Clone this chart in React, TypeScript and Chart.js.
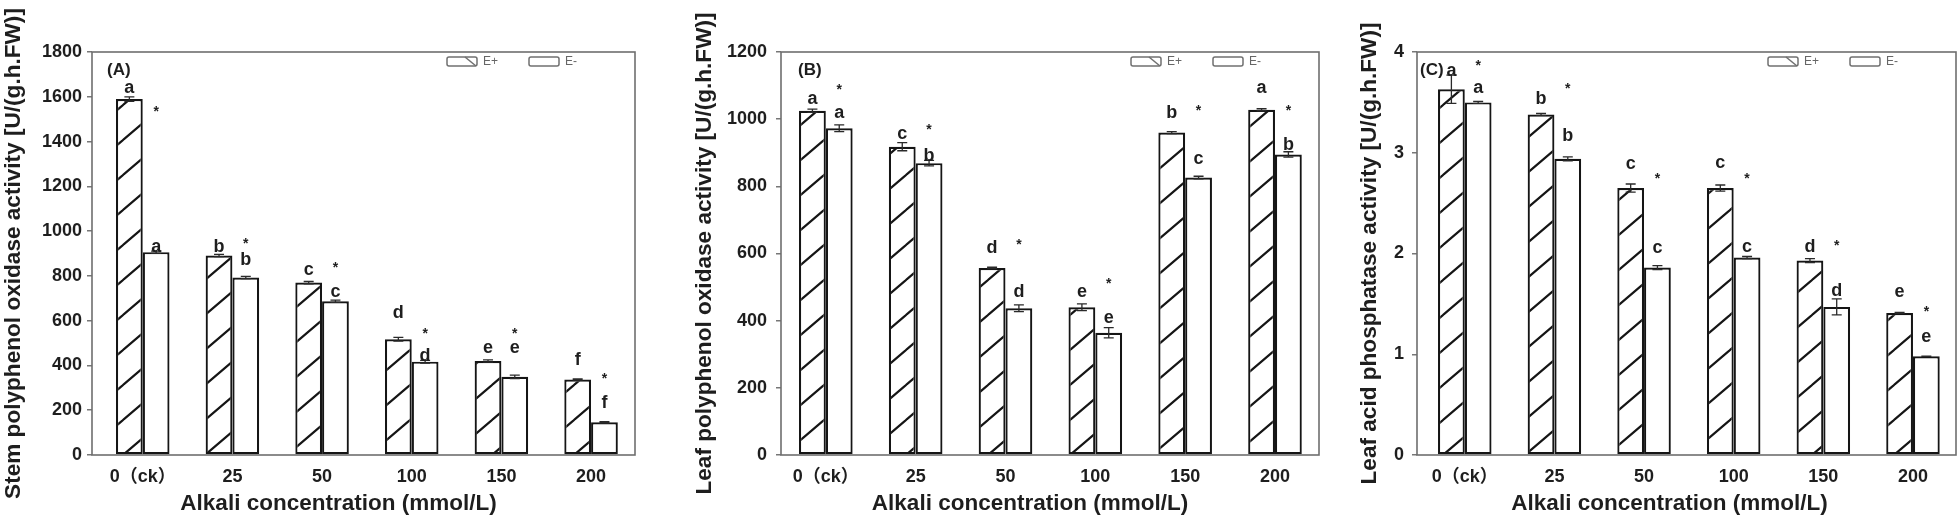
import React, { useEffect, useRef } from "react";
import { Chart, registerables } from "chart.js";

Chart.register(...registerables);

const FONT = '"Liberation Sans", Arial, "Noto Sans CJK SC", sans-serif';

const categories = ["0（ck）", "25", "50", "100", "150", "200"];
const xTitle = "Alkali concentration (mmol/L)";
const seriesNames = ["E+", "E-"];

// ---- Panel A: stem polyphenol oxidase ----
const stemPPO_Eplus = [1590, 891, 770, 517, 420, 337];
const stemPPO_Eminus = [906, 793, 687, 417, 349, 146];
const stemPPO_errEplus = [10, 5, 5, 8, 5, 3];
const stemPPO_errEminus = [5, 5, 5, 6, 8, 3];
const stemPPO_letEplus = ["a", "b", "c", "d", "e", "f"];
const stemPPO_letEminus = ["a", "b", "c", "d", "e", "f"];
const stemPPO_letYEplus = [1640, 928, 824, 633, 477, 425];
const stemPPO_letYEminus = [928, 872, 727, 440, 477, 231];
const stemPPO_starY = [1547, 954, 850, 551, 551, 350];
const stemPPO_yTicks = [0, 200, 400, 600, 800, 1000, 1200, 1400, 1600, 1800];

// ---- Panel B: leaf polyphenol oxidase ----
const leafPPO_Eplus = [1025, 918, 557, 440, 960, 1028];
const leafPPO_Eminus = [973, 869, 437, 364, 826, 895];
const leafPPO_errEplus = [5, 12, 2, 10, 3, 3];
const leafPPO_errEminus = [10, 8, 10, 15, 4, 8];
const leafPPO_letEplus = ["a", "c", "d", "e", "b", "a"];
const leafPPO_letEminus = ["a", "b", "d", "e", "c", "b"];
const leafPPO_letYEplus = [1061, 956, 616, 485, 1018, 1093];
const leafPPO_letYEminus = [1018, 889, 485, 409, 882, 922];
const leafPPO_starY = [1096, 975, 633, 519, 1033, 1033];
const leafPPO_yTicks = [0, 200, 400, 600, 800, 1000, 1200];

// ---- Panel C: leaf acid phosphatase ----
const leafACP_Eplus = [3.63, 3.38, 2.65, 2.65, 1.93, 1.41];
const leafACP_Eminus = [3.5, 2.94, 1.86, 1.96, 1.47, 0.98];
const leafACP_errEplus = [0.14, 0.01, 0.04, 0.03, 0.02, 0.005];
const leafACP_errEminus = [0.01, 0.02, 0.02, 0.01, 0.08, 0.0];
const leafACP_letEplus = ["a", "b", "c", "c", "d", "e"];
const leafACP_letEminus = ["a", "b", "c", "c", "d", "e"];
const leafACP_letYEplus = [3.81, 3.53, 2.89, 2.9, 2.06, 1.62];
const leafACP_letYEminus = [3.64, 3.17, 2.05, 2.06, 1.63, 1.17];
const leafACP_starY = [3.89, 3.66, 2.77, 2.77, 2.1, 1.45];
const leafACP_yTicks = [0, 1, 2, 3, 4];

type PanelCfg = {
  tag: string;
  yTitle: string;
  ePlus: number[];
  eMinus: number[];
  errPlus: number[];
  errMinus: number[];
  letPlus: string[];
  letMinus: string[];
  letYPlus: number[];
  letYMinus: number[];
  starY: number[];
  yTicks: number[];
  // layout
  canvasLeft: number;
  canvasWidth: number;
  padLeft: number;
  padRight: number;
  yAxisWidth: number;
  tickPad: number;
  xMin: number;
  xMax: number;
  tagDx: number;
  xTitleDx: number;
};

const panels: PanelCfg[] = [
  {
    tag: "(A)",
    yTitle: "Stem polyphenol oxidase activity [U/(g.h.FW)]",
    ePlus: stemPPO_Eplus,
    eMinus: stemPPO_Eminus,
    errPlus: stemPPO_errEplus,
    errMinus: stemPPO_errEminus,
    letPlus: stemPPO_letEplus,
    letMinus: stemPPO_letEminus,
    letYPlus: stemPPO_letYEplus,
    letYMinus: stemPPO_letYEminus,
    starY: stemPPO_starY,
    yTicks: stemPPO_yTicks,
    canvasLeft: 0,
    canvasWidth: 660,
    padLeft: 0,
    padRight: 25,
    yAxisWidth: 92,
    tickPad: 5,
    xMin: -0.566,
    xMax: 5.49,
    tagDx: 15,
    xTitleDx: -25,
  },
  {
    tag: "(B)",
    yTitle: "Leaf polyphenol oxidase activity [U/(g.h.FW)]",
    ePlus: leafPPO_Eplus,
    eMinus: leafPPO_Eminus,
    errPlus: leafPPO_errEplus,
    errMinus: leafPPO_errEminus,
    letPlus: leafPPO_letEplus,
    letMinus: leafPPO_letEminus,
    letYPlus: leafPPO_letYEplus,
    letYMinus: leafPPO_letYEminus,
    starY: leafPPO_starY,
    yTicks: leafPPO_yTicks,
    canvasLeft: 660,
    canvasWidth: 660,
    padLeft: 31,
    padRight: 1,
    yAxisWidth: 90,
    tickPad: 9,
    xMin: -0.499,
    xMax: 5.49,
    tagDx: 17,
    xTitleDx: -20,
  },
  {
    tag: "(C)",
    yTitle: "Leaf acid phosphatase activity [U/(g.h.FW)]",
    ePlus: leafACP_Eplus,
    eMinus: leafACP_Eminus,
    errPlus: leafACP_errEplus,
    errMinus: leafACP_errEminus,
    letPlus: leafACP_letEplus,
    letMinus: leafACP_letEminus,
    letYPlus: leafACP_letYEplus,
    letYMinus: leafACP_letYEminus,
    starY: leafACP_starY,
    yTicks: leafACP_yTicks,
    canvasLeft: 1320,
    canvasWidth: 640,
    padLeft: 36,
    padRight: 4,
    yAxisWidth: 61,
    tickPad: 8,
    xMin: -0.533,
    xMax: 5.48,
    tagDx: 3,
    xTitleDx: -17,
  },
];

function makeHatch(): CanvasPattern | string {
  const w = 41;
  const h = 35;
  const c = document.createElement("canvas");
  c.width = w;
  c.height = h;
  const g = c.getContext("2d");
  if (!g) return "#fff";
  g.fillStyle = "#ffffff";
  g.fillRect(0, 0, w, h);
  g.strokeStyle = "#151515";
  g.lineWidth = 2.2;
  g.lineCap = "square";
  for (const dx of [-w, 0, w]) {
    g.beginPath();
    g.moveTo(dx, h);
    g.lineTo(dx + w, 0);
    g.stroke();
  }
  const p = g.createPattern(c, "repeat");
  return p || "#fff";
}

function makeAnnotPlugin(p: PanelCfg) {
  return {
    id: "annot" + p.tag,
    afterDatasetsDraw(chart: any) {
      const { ctx, chartArea: a, scales } = chart;
      const ys = scales.y;
      const m0 = chart.getDatasetMeta(0);
      const m1 = chart.getDatasetMeta(1);
      ctx.save();

      // frame
      ctx.strokeStyle = "#6e6e6e";
      ctx.lineWidth = 1.6;
      ctx.strokeRect(a.left, a.top, a.right - a.left, a.bottom - a.top);

      // error bars
      const drawErr = (x: number, v: number, e: number) => {
        const yTop = ys.getPixelForValue(v + e);
        const yBot = ys.getPixelForValue(v - e);
        ctx.strokeStyle = "#2a2a2a";
        ctx.lineWidth = 1.3;
        ctx.beginPath();
        ctx.moveTo(x, yTop);
        ctx.lineTo(x, yBot);
        ctx.moveTo(x - 5, yTop);
        ctx.lineTo(x + 5, yTop);
        ctx.moveTo(x - 5, yBot);
        ctx.lineTo(x + 5, yBot);
        ctx.stroke();
      };
      categories.forEach((_, i) => {
        drawErr(m0.data[i].x, p.ePlus[i], p.errPlus[i]);
        drawErr(m1.data[i].x, p.eMinus[i], p.errMinus[i]);
      });

      // panel tag
      ctx.fillStyle = "#1e1e1e";
      ctx.font = "bold 17px " + FONT;
      ctx.textAlign = "left";
      ctx.textBaseline = "middle";
      ctx.fillText(p.tag, a.left + p.tagDx, a.top + 18);

      // letters
      ctx.font = "bold 18px " + FONT;
      ctx.textAlign = "center";
      ctx.textBaseline = "middle";
      categories.forEach((_, i) => {
        ctx.fillText(p.letPlus[i], m0.data[i].x, ys.getPixelForValue(p.letYPlus[i]));
        ctx.fillText(p.letMinus[i], m1.data[i].x, ys.getPixelForValue(p.letYMinus[i]));
      });
      // significance stars
      ctx.font = "bold 14px " + FONT;
      categories.forEach((_, i) => {
        ctx.fillText("*", m1.data[i].x, ys.getPixelForValue(p.starY[i]) + 3);
      });

      // legend
      const by = a.top + 5;
      const boxes = [a.right - 188, a.right - 106];
      boxes.forEach((bx, k) => {
        ctx.strokeStyle = "#707070";
        ctx.lineWidth = 1.5;
        ctx.beginPath();
        if ((ctx as any).roundRect) (ctx as any).roundRect(bx, by, 30, 9, 2);
        else ctx.rect(bx, by, 30, 9);
        ctx.stroke();
        if (k === 0) {
          ctx.beginPath();
          ctx.moveTo(bx + 18, by);
          ctx.lineTo(bx + 29, by + 9);
          ctx.stroke();
        }
        ctx.fillStyle = "#666";
        ctx.font = "12px " + FONT;
        ctx.textAlign = "left";
        ctx.textBaseline = "middle";
        ctx.fillText(seriesNames[k], bx + 36, by + 5);
      });

      // x axis title
      ctx.fillStyle = "#1e1e1e";
      ctx.font = "bold 22.5px " + FONT;
      ctx.textAlign = "center";
      ctx.textBaseline = "alphabetic";
      ctx.fillText(xTitle, (a.left + a.right) / 2 + p.xTitleDx, 510);

      ctx.restore();
    },
  };
}

function Panel({ p }: { p: PanelCfg }) {
  const ref = useRef<HTMLCanvasElement | null>(null);
  useEffect(() => {
    const canvas = ref.current;
    if (!canvas) return;
    const hatch = makeHatch();
    const chart = new Chart(canvas, {
      type: "bar",
      data: {
        datasets: [
          {
            label: seriesNames[0],
            data: p.ePlus.map((v, i) => ({ x: i, y: v })),
            backgroundColor: hatch as any,
            borderColor: "#151515",
            borderWidth: 2.2,
            borderSkipped: false,
          },
          {
            label: seriesNames[1],
            data: p.eMinus.map((v, i) => ({ x: i, y: v })),
            backgroundColor: "#ffffff",
            borderColor: "#151515",
            borderWidth: 2.2,
            borderSkipped: false,
          },
        ],
      },
      options: {
        responsive: false,
        animation: false,
        devicePixelRatio: 1,
        layout: { padding: { left: p.padLeft, right: p.padRight, top: 52, bottom: 0 } },
        datasets: { bar: { categoryPercentage: 0.597, barPercentage: 1 } } as any,
        scales: {
          x: {
            type: "linear",
            min: p.xMin,
            max: p.xMax,
            offset: false,
            grid: { display: false, drawTicks: false },
            border: { display: false },
            afterBuildTicks: (s: any) => {
              s.ticks = categories.map((_, i) => ({ value: i }));
            },
            afterFit: (s: any) => {
              s.height = 64;
            },
            ticks: {
              autoSkip: false,
              maxRotation: 0,
              padding: 11,
              color: "#1e1e1e",
              font: { family: FONT, size: 18, weight: "bold" },
              callback: (v: any) => categories[Math.round(Number(v))] ?? "",
            },
          } as any,
          y: {
            min: p.yTicks[0],
            max: p.yTicks[p.yTicks.length - 1],
            afterBuildTicks: (s: any) => {
              s.ticks = p.yTicks.map((v) => ({ value: v }));
            },
            afterFit: (s: any) => {
              s.width = p.yAxisWidth;
            },
            grid: {
              drawOnChartArea: false,
              drawTicks: true,
              tickLength: 5,
              color: "#777",
              lineWidth: 1.5,
            },
            border: { display: false },
            ticks: {
              padding: p.tickPad,
              color: "#1e1e1e",
              font: { family: FONT, size: 18, weight: "bold" },
              callback: (v: any) => String(v),
            },
            title: {
              display: true,
              text: p.yTitle,
              color: "#1e1e1e",
              padding: { top: 0, bottom: 0 },
              font: { family: FONT, size: 22.6, weight: "bold" },
            },
          } as any,
        },
        plugins: {
          legend: { display: false },
          tooltip: { enabled: false },
        },
      },
      plugins: [makeAnnotPlugin(p)],
    });
    return () => chart.destroy();
  }, [p]);
  return (
    <canvas
      ref={ref}
      width={p.canvasWidth}
      height={519}
      style={{ position: "absolute", left: p.canvasLeft, top: 0, width: p.canvasWidth, height: 519 }}
    />
  );
}

export default function App() {
  return (
    <div style={{ position: "absolute", left: 0, top: 0, width: 1960, height: 519, background: "#fff" }}>
      {panels.map((p) => (
        <Panel key={p.tag} p={p} />
      ))}
    </div>
  );
}
